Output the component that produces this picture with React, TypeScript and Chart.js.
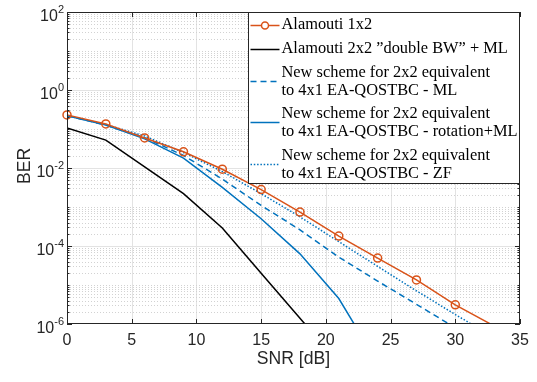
import React, { useEffect, useRef } from 'react';
import { Chart, registerables } from 'chart.js';

Chart.register(...registerables);

// ---- data ----
const snrDb = [0, 3, 6, 9, 12, 15, 18, 21, 24, 27, 30, 33];
const berAlamouti1x2 = [0.23, 0.135, 0.059, 0.026, 0.0093, 0.0028, 7.4e-4, 1.8e-4, 4.9e-5, 1.35e-5, 3.1e-6, 8.9e-7];
const berAlamouti2x2 = [0.107, 0.052, 0.0107, 0.0022, 2.9e-4, 2.0e-5, 1.4e-6, 1.0e-7];
const berNewML = [0.22, 0.126, 0.06, 0.021, 0.0052, 0.0011, 2.6e-4, 5.2e-5, 1.26e-5, 3.2e-6, 8.0e-7];
const berNewRotML = [0.22, 0.126, 0.056, 0.018, 0.0032, 5.0e-4, 6.3e-5, 4.5e-6, 1.0e-7];
const berNewZF = [0.22, 0.13, 0.066, 0.025, 0.0081, 0.0022, 5.6e-4, 1.29e-4, 3.0e-5, 7.1e-6, 1.75e-6, 4.5e-7];

const xTickValues = [0, 5, 10, 15, 20, 25, 30, 35];
const yTickExponents = [2, 0, -2, -4, -6];
const yMin = 1e-6;
const yMax = 1e2;
const xTitle = 'SNR [dB]';
const yTitle = 'BER';

const legendLabels: string[][] = [
  ['Alamouti 1x2'],
  ['Alamouti 2x2 \u201Ddouble BW\u201D + ML'],
  ['New scheme for 2x2 equivalent', 'to 4x1 EA-QOSTBC - ML'],
  ['New scheme for 2x2 equivalent', 'to 4x1 EA-QOSTBC - rotation+ML'],
  ['New scheme for 2x2 equivalent', 'to 4x1 EA-QOSTBC - ZF'],
];

const ORANGE = '#D95319';
const BLUE = '#0072BD';
const BLACK = '#000000';
const AXIS = '#262626';
const GRID = '#e3e3e3';
const GRID_MINOR = '#d2d2d2';

const toPoints = (ys: number[]) => ys.map((y, i) => ({ x: snrDb[i], y }));

const seriesStyles = [
  { color: ORANGE, dash: [] as number[], marker: true },
  { color: BLACK, dash: [] as number[], marker: false },
  { color: BLUE, dash: [6, 4], marker: false },
  { color: BLUE, dash: [] as number[], marker: false },
  { color: BLUE, dash: [1.5, 1.8], marker: false },
];

const matlabAxes = {
  id: 'matlabAxes',
  beforeDatasetsDraw(chart: any) {
    const { ctx, chartArea: a, scales } = chart;
    const xs = scales.x;
    const ys = scales.y;
    ctx.save();
    ctx.lineWidth = 1;
    ctx.strokeStyle = GRID;
    ctx.setLineDash([]);
    for (const t of xTickValues) {
      const px = Math.round(xs.getPixelForValue(t)) + 0.5;
      if (px <= a.left + 1 || px >= a.right - 1) continue;
      ctx.beginPath();
      ctx.moveTo(px, a.top);
      ctx.lineTo(px, a.bottom);
      ctx.stroke();
    }
    for (let n = -6; n < 2; n++) {
      for (let k = 1; k < 10; k++) {
        if (n === -6 && k === 1) continue;
        const v = k * Math.pow(10, n);
        const py = Math.round(ys.getPixelForValue(v)) + 0.5;
        const major = k === 1 && yTickExponents.includes(n);
        ctx.strokeStyle = major ? GRID : GRID_MINOR;
        ctx.setLineDash(major ? [] : [1, 2]);
        ctx.beginPath();
        ctx.moveTo(a.left, py);
        ctx.lineTo(a.right, py);
        ctx.stroke();
      }
    }
    ctx.restore();
  },
  afterDatasetsDraw(chart: any) {
    const { ctx, chartArea: a, scales } = chart;
    const xs = scales.x;
    const ys = scales.y;
    ctx.save();
    ctx.setLineDash([]);
    ctx.strokeStyle = AXIS;
    ctx.lineWidth = 1;
    ctx.strokeRect(a.left + 0.5, a.top + 0.5, a.right - a.left - 1, a.bottom - a.top - 1);
    for (const t of xTickValues) {
      const px = Math.round(xs.getPixelForValue(t)) + 0.5;
      ctx.beginPath();
      ctx.moveTo(px, a.bottom);
      ctx.lineTo(px, a.bottom - 5);
      ctx.moveTo(px, a.top);
      ctx.lineTo(px, a.top + 5);
      ctx.stroke();
    }
    for (let n = -6; n <= 2; n++) {
      for (let k = 1; k < 10; k++) {
        if (n === 2 && k > 1) break;
        const v = k * Math.pow(10, n);
        const py = Math.round(ys.getPixelForValue(v)) + 0.5;
        const major = k === 1 && yTickExponents.includes(n);
        const len = major ? 5 : 2.5;
        ctx.beginPath();
        ctx.moveTo(a.left, py);
        ctx.lineTo(a.left + len, py);
        ctx.moveTo(a.right, py);
        ctx.lineTo(a.right - len, py);
        ctx.stroke();
      }
    }

    // legend
    const W = 272;
    const H = 171;
    const L = Math.round(a.right - W) + 0.5;
    const T = Math.round(a.top) + 0.5;
    ctx.fillStyle = '#ffffff';
    ctx.fillRect(L, T, W - 1, H);
    ctx.strokeStyle = AXIS;
    ctx.strokeRect(L, T, W - 1, H);
    const rowLines = [[12], [36], [60, 78], [101, 119], [143, 161]];
    const sampleY = [12, 36, 68.5, 109.5, 151];
    ctx.font = '16.4px "Liberation Serif"';
    ctx.textBaseline = 'middle';
    ctx.textAlign = 'left';
    legendLabels.forEach((lines, i) => {
      const st = seriesStyles[i];
      const sy = Math.round(T + sampleY[i]) + 0.5;
      ctx.strokeStyle = st.color;
      ctx.lineWidth = 1.5;
      ctx.setLineDash(st.dash);
      ctx.beginPath();
      ctx.moveTo(L + 2, sy);
      ctx.lineTo(L + 31, sy);
      ctx.stroke();
      ctx.setLineDash([]);
      if (st.marker) {
        ctx.beginPath();
        ctx.arc(L + 16.5, sy, 3.5, 0, Math.PI * 2);
        ctx.fillStyle = '#ffffff';
        ctx.fill();
        ctx.stroke();
      }
      ctx.fillStyle = '#000000';
      lines.forEach((txt, j) => {
        ctx.fillText(txt, L + 33, T + rowLines[i][j]);
      });
    });
    ctx.restore();
  },
  afterDraw(chart: any) {
    const { ctx, chartArea: a, scales } = chart;
    const ys = scales.y;
    ctx.save();
    ctx.fillStyle = AXIS;
    for (const e of yTickExponents) {
      const py = ys.getPixelForValue(Math.pow(10, e));
      const sup = String(e);
      ctx.font = '11px "Liberation Sans"';
      const ws = ctx.measureText(sup).width;
      const right = a.left - 3;
      ctx.textBaseline = 'alphabetic';
      ctx.textAlign = 'left';
      ctx.fillText(sup, right - ws, py + 1);
      ctx.font = '16px "Liberation Sans"';
      ctx.textAlign = 'right';
      ctx.fillText('10', right - ws, py + 9);
    }
    ctx.font = '17.6px "Liberation Sans"';
    ctx.textAlign = 'center';
    ctx.textBaseline = 'alphabetic';
    ctx.fillText(xTitle, (a.left + a.right) / 2, 364);
    ctx.translate(30, (a.top + a.bottom) / 2 - 2);
    ctx.rotate(-Math.PI / 2);
    ctx.fillText(yTitle, 0, 0);
    ctx.restore();
  },
};

export default function App() {
  const canvasRef = useRef<HTMLCanvasElement | null>(null);

  useEffect(() => {
    if (!canvasRef.current) return;
    const series = [berAlamouti1x2, berAlamouti2x2, berNewML, berNewRotML, berNewZF];
    const datasets = series.map((ys, i) => {
      const st = seriesStyles[i];
      const markerRadius = (c: any) => (st.marker && c.raw && c.raw.y >= yMin ? 4 : 0);
      return {
        label: legendLabels[i].join(' '),
        data: toPoints(ys),
        borderColor: st.color,
        backgroundColor: 'transparent',
        borderWidth: 1.5,
        borderDash: st.dash,
        pointRadius: markerRadius,
        pointHoverRadius: markerRadius,
        pointBorderWidth: 1.5,
        pointBorderColor: st.color,
        pointBackgroundColor: 'transparent',
        tension: 0,
        fill: false,
        clip: st.marker ? { left: 6, top: 0, right: 0, bottom: 0 } : 0,
      };
    });
    const chart = new Chart(canvasRef.current, {
      type: 'line',
      data: { datasets: datasets as any },
      options: {
        animation: false,
        responsive: false,
        maintainAspectRatio: false,
        layout: { padding: { top: 12, right: 17, left: 0, bottom: 0 } },
        plugins: {
          legend: { display: false },
          tooltip: { enabled: false },
          title: { display: false },
        },
        scales: {
          x: {
            type: 'linear',
            min: 0,
            max: 35,
            afterBuildTicks: (scale: any) => {
              scale.ticks = xTickValues.map((v) => ({ value: v }));
            },
            ticks: {
              color: AXIS,
              font: { family: 'Liberation Sans', size: 16 },
              padding: 7,
              maxRotation: 0,
              autoSkip: false,
            },
            grid: { display: false, drawTicks: false },
            border: { display: false },
            afterFit: (scale: any) => {
              scale.height = 58;
            },
          },
          y: {
            type: 'logarithmic',
            min: yMin,
            max: yMax,
            ticks: { display: false },
            grid: { display: false, drawTicks: false },
            border: { display: false },
            afterFit: (scale: any) => {
              scale.width = 67;
            },
          },
        },
      },
      plugins: [matlabAxes],
    });
    return () => chart.destroy();
  }, []);

  return (
    <div style={{ position: 'absolute', left: 0, top: 0, width: 537, height: 382, background: '#ffffff' }}>
      <canvas ref={canvasRef} width={537} height={382} style={{ display: 'block' }} />
    </div>
  );
}
